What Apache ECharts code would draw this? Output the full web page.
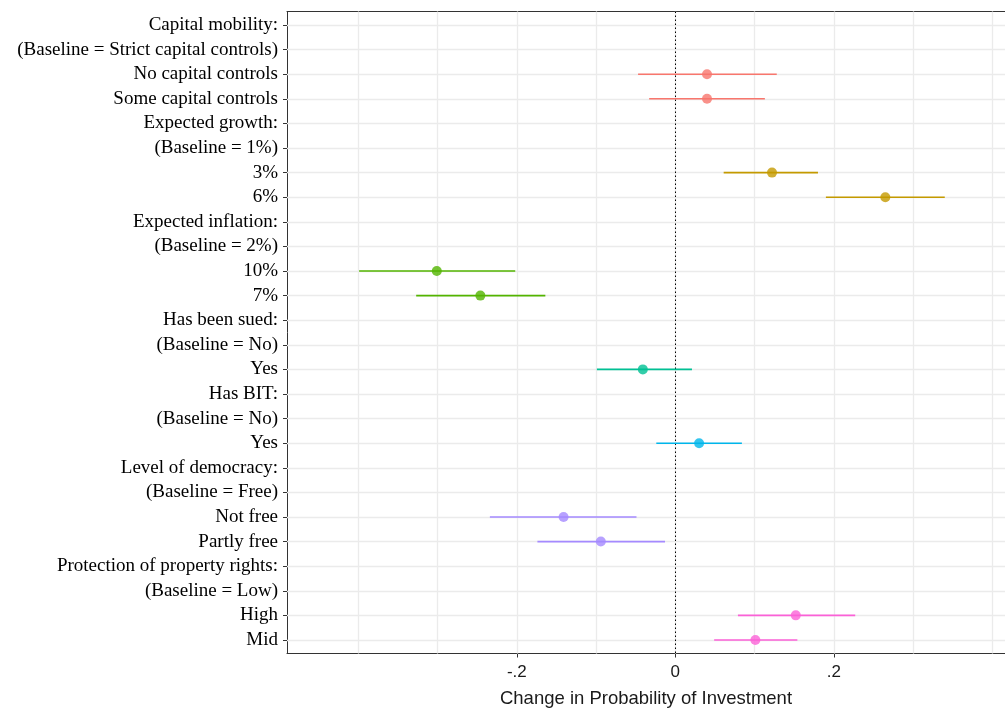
<!DOCTYPE html>
<html>
<head>
<meta charset="utf-8">
<script src="https://cdn.jsdelivr.net/npm/echarts@6/dist/echarts.min.js"></script>
<style>html,body{margin:0;padding:0;background:#fff;}#c{width:1005px;height:709px;}</style>
</head>
<body>
<div id="c"></div>
<script>
// ---- data ----
var categories = [
  'Capital mobility:', '(Baseline = Strict capital controls)', 'No capital controls', 'Some capital controls',
  'Expected growth:', '(Baseline = 1%)', '3%', '6%',
  'Expected inflation:', '(Baseline = 2%)', '10%', '7%',
  'Has been sued:', '(Baseline = No)', 'Yes',
  'Has BIT:', '(Baseline = No)', 'Yes',
  'Level of democracy:', '(Baseline = Free)', 'Not free', 'Partly free',
  'Protection of property rights:', '(Baseline = Low)', 'High', 'Mid'
];
var estimates = [null, null, 0.040, 0.040, null, null, 0.122, 0.265, null, null, -0.301, -0.246, null, null, -0.041, null, null, 0.030, null, null, -0.141, -0.094, null, null, 0.152, 0.101];
var lower     = [null, null, -0.047, -0.033, null, null, 0.061, 0.190, null, null, -0.399, -0.327, null, null, -0.099, null, null, -0.024, null, null, -0.234, -0.174, null, null, 0.079, 0.049];
var upper     = [null, null, 0.128, 0.113, null, null, 0.180, 0.340, null, null, -0.202, -0.164, null, null, 0.021, null, null, 0.084, null, null, -0.049, -0.013, null, null, 0.227, 0.154];
var groupOf   = [0, 0, 0, 0, 1, 1, 1, 1, 2, 2, 2, 2, 3, 3, 3, 4, 4, 4, 5, 5, 5, 5, 6, 6, 6, 6];
var xTickValues = [-0.2, 0, 0.2];
var xTickLabels = ['-.2', '0', '.2'];
var xGridValues = [-0.4, -0.3, -0.2, -0.1, 0, 0.1, 0.2, 0.3, 0.4];
var xTitle = 'Change in Probability of Investment';

// ---- styling ----
var groupColors = ['#F8766D', '#C49A00', '#53B400', '#00C094', '#00B6EB', '#A58AFF', '#FB61D7'];
var X_MIN = -0.49, X_MAX = 0.416, Y_MIN = -0.55, Y_MAX = 25.55;

var rowIdx = categories.map(function (_, i) { return i; });
var errData = [], ptData = [];
rowIdx.forEach(function (i) {
  if (estimates[i] === null) return;
  errData.push([lower[i], upper[i], i, groupOf[i]]);
  ptData.push({ value: [estimates[i], i], itemStyle: { color: groupColors[groupOf[i]] } });
});

var gridMarks = [];
xGridValues.forEach(function (v) { gridMarks.push({ xAxis: v }); });
rowIdx.forEach(function (i) { gridMarks.push({ yAxis: i }); });

var chart = echarts.init(document.getElementById('c'), null, { renderer: 'canvas' });
chart.setOption({
  animation: false,
  backgroundColor: '#ffffff',
  grid: { left: 287, top: 11.5, bottom: 55.5, right: 0, show: false, containLabel: false, outerBoundsMode: 'none' },
  xAxis: [{
    type: 'value', min: X_MIN, max: X_MAX, position: 'bottom',
    axisLine: { show: true, onZero: false, lineStyle: { color: '#333333', width: 1 } },
    splitLine: { show: false },
    axisTick: { show: true, length: 4, lineStyle: { color: '#333333' }, customValues: xTickValues },
    axisLabel: {
      customValues: xTickValues, margin: 10,
      fontFamily: 'Liberation Sans, Arial', fontSize: 17, color: '#1a1a1a',
      formatter: function (v) { var k = xTickValues.indexOf(Math.round(v * 1000) / 1000); return k >= 0 ? xTickLabels[k] : ''; }
    },
    name: xTitle, nameLocation: 'middle', nameGap: 36,
    nameTextStyle: { fontFamily: 'Liberation Sans, Arial', fontSize: 18.5, color: '#1a1a1a' }
  }, {
    type: 'value', min: X_MIN, max: X_MAX, position: 'top',
    axisLine: { show: true, onZero: false, lineStyle: { color: '#333333', width: 1 } },
    splitLine: { show: false }, axisTick: { show: false }, axisLabel: { show: false }
  }],
  yAxis: {
    type: 'value', inverse: true, min: Y_MIN, max: Y_MAX,
    axisLine: { show: true, onZero: false, lineStyle: { color: '#333333', width: 1 } },
    splitLine: { show: false },
    axisTick: { show: true, length: 4, lineStyle: { color: '#333333' }, customValues: rowIdx },
    axisLabel: {
      customValues: rowIdx, margin: 9, padding: [4, 0, 0, 0],
      fontFamily: 'Liberation Serif, Times New Roman, serif', fontSize: 19, color: '#000000',
      formatter: function (v) { var k = Math.round(v); return categories[k] !== undefined ? categories[k] : ''; }
    }
  },
  series: [
    {
      type: 'scatter', data: [], silent: true, z: 1,
      markLine: {
        silent: true, symbol: 'none', animation: false, z: 1,
        label: { show: false },
        lineStyle: { color: '#EBEBEB', width: 1.3, type: 'solid' },
        emphasis: { disabled: true },
        data: gridMarks
      }
    },
    {
      type: 'scatter', data: [], silent: true, z: 2,
      markLine: {
        silent: true, symbol: 'none', animation: false, z: 2,
        label: { show: false },
        lineStyle: { color: '#000000', width: 1, type: [1.5, 2.5] },
        emphasis: { disabled: true },
        data: [{ xAxis: 0 }]
      }
    },
    {
      type: 'custom', z: 10, silent: true,
      renderItem: function (params, api) {
        var a = api.coord([api.value(0), api.value(2)]);
        var b = api.coord([api.value(1), api.value(2)]);
        return { type: 'line', shape: { x1: a[0], y1: a[1], x2: b[0], y2: b[1] }, style: { stroke: groupColors[api.value(3)], lineWidth: 1.6 } };
      },
      encode: { x: [0, 1], y: 2 },
      data: errData
    },
    {
      type: 'scatter', z: 11, silent: true, symbol: 'circle', symbolSize: 10,
      data: ptData
    }
  ]
});
</script>
</body>
</html>
